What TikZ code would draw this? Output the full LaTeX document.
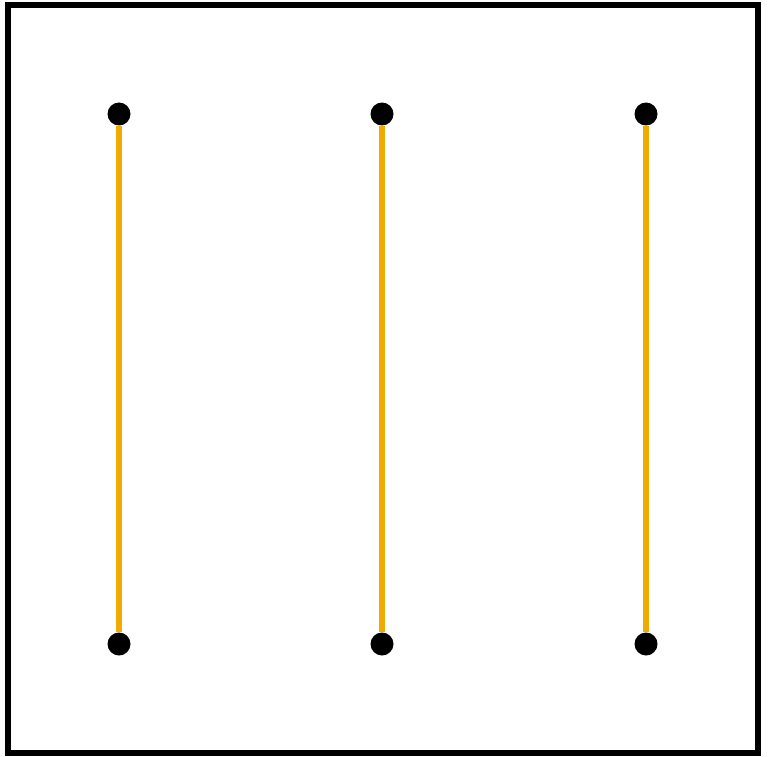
\documentclass[tikz,border=0pt]{standalone}
\usepackage{xcolor}
\usepackage{tikz}
\definecolor{wireorange}{RGB}{240,170,0}

\begin{document}
\begin{tikzpicture}[x=1pt,y=-1pt,
   pin/.style={circle,fill=black,inner sep=0pt,minimum size=23pt},
   wire/.style={draw=wireorange,line width=6.5pt}]
  \useasboundingbox (0,0) rectangle (768,757);
  \draw[line width=6pt] (8,5) rectangle (758,753);
  \node[pin] (t1) at (119,114) {};
  \node[pin] (t2) at (382,114) {};
  \node[pin] (t3) at (646,114) {};
  \node[pin] (b1) at (119,644) {};
  \node[pin] (b2) at (382,644) {};
  \node[pin] (b3) at (646,644) {};
  \draw[wire] (t1) -- (b1);
  \draw[wire] (t2) -- (b2);
  \draw[wire] (t3) -- (b3);
\end{tikzpicture}
\end{document}
